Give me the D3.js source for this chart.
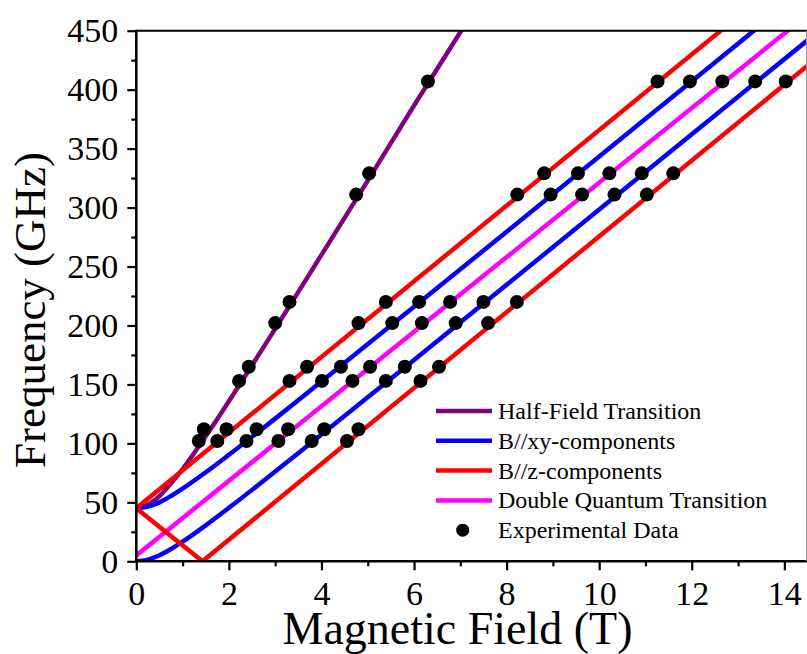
<!DOCTYPE html>
<html>
<head>
<meta charset="utf-8">
<script src="https://cdn.jsdelivr.net/npm/d3@7"></script>
<style>
  html, body { margin: 0; padding: 0; background: #fff; }
  svg { display: block; }
  svg text { font-family: "Liberation Serif", "Times New Roman", Times, "DejaVu Serif", serif; fill: #000; }
</style>
</head>
<body>
<svg id="chart" width="807" height="654"></svg>
<script>
// Resonance branches: [field (T), frequency (GHz)]
const halfField   = [[0,45],[0.25,47.9],[0.5,55.2],[0.75,66.2],[1,78.2],[1.5,106],[2,135.7],[3,197.2],[4,259.9],[5,322.8],[6,386.6],[7.1,455]];
const xyUpper     = [[0,45],[0.25,46.4],[0.5,50],[0.75,55.4],[1,61.6],[1.5,75.5],[2,90.3],[3,121],[4,152.5],[6,215.8],[8,279.5],[10,343.3],[12,407.2],[13.5,455]];
const xyLower     = [[0,0],[0.25,1.4],[0.5,5.1],[0.75,10.4],[1,16.6],[1.5,30.5],[2,45.3],[3,76.1],[4,107.5],[6,170.8],[8,234.5],[10,298.3],[12,362.2],[14.6,445]];
const zUpper      = [[0,45],[13,462]];
const zLower      = [[0,45],[1.43,0],[14.6,423.5]];
const doubleQuant = [[0,5],[14.2,454]];

// Measured resonances, one frequency per row
const expFreq  = [102, 112, 153, 165, 202, 220, 311, 329, 407];
const expField = [
  [1.35, 1.75, 2.38, 3.07, 3.79, 4.55],
  [1.46, 1.95, 2.60, 3.28, 4.06, 4.80],
  [2.22, 3.31, 4.01, 4.67, 5.39, 6.14],
  [2.43, 3.69, 4.42, 5.05, 5.80, 6.54],
  [3.00, 4.80, 5.53, 6.17, 6.90, 7.60],
  [3.31, 5.39, 6.11, 6.78, 7.50, 8.22],
  [4.75, 8.23, 8.95, 9.63, 10.33, 11.03],
  [5.03, 8.81, 9.54, 10.22, 10.92, 11.60],
  [6.30, 11.26, 11.96, 12.66, 13.37, 14.03]
];

const xTicks = [0, 2, 4, 6, 8, 10, 12, 14];
const yTicks = [0, 50, 100, 150, 200, 250, 300, 350, 400, 450];
const legendLabels = ["Half-Field Transition", "B//xy-components", "B//z-components", "Double Quantum Transition", "Experimental Data"];

const COL = { purple: "#800080", blue: "#0000ff", red: "#ff0000", magenta: "#ff00ff" };
const SERIF = "'Liberation Serif', 'Times New Roman', Times, 'DejaVu Serif', serif";

const svg = d3.select("#chart");
const L = 136.3, R = 807.5, T = 30.7, B = 561.3;

const x = d3.scaleLinear().domain([0, 14.5]).range([L, R]);
const y = d3.scaleLinear().domain([0, 450]).range([B, T]);

svg.append("defs").append("clipPath").attr("id", "plotClip")
  .append("rect").attr("x", L).attr("y", T).attr("width", R - L).attr("height", B - T);

const plot = svg.append("g").attr("clip-path", "url(#plotClip)");

const smooth = d3.line().x(d => x(d[0])).y(d => y(d[1])).curve(d3.curveMonotoneX);
const straight = d3.line().x(d => x(d[0])).y(d => y(d[1]));

const curves = [
  { data: halfField,   color: COL.purple,  gen: smooth },
  { data: doubleQuant, color: COL.magenta, gen: straight },
  { data: xyUpper,     color: COL.blue,    gen: smooth },
  { data: xyLower,     color: COL.blue,    gen: smooth },
  { data: zUpper,      color: COL.red,     gen: straight },
  { data: zLower,      color: COL.red,     gen: straight }
];
curves.forEach(c => {
  plot.append("path").attr("d", c.gen(c.data))
    .attr("fill", "none").attr("stroke", c.color)
    .attr("stroke-width", 4.5).attr("stroke-linejoin", "miter");
});

const points = [];
expFreq.forEach((f, i) => expField[i].forEach(b => points.push([b, f])));
plot.selectAll("circle.exp").data(points).enter().append("circle")
  .attr("class", "exp")
  .attr("cx", d => x(d[0])).attr("cy", d => y(d[1])).attr("r", 7)
  .attr("fill", "#000");

// Axes
const axisW = 2.5;
const yAxis = svg.append("g").attr("transform", `translate(${L},0)`)
  .call(d3.axisLeft(y).tickValues(yTicks).tickSize(9).tickPadding(9).tickSizeOuter(0));
const yMinor = svg.append("g").attr("transform", `translate(${L},0)`)
  .call(d3.axisLeft(y).tickValues(d3.range(25, 450, 50)).tickSize(5).tickFormat("").tickSizeOuter(0));
const xAxis = svg.append("g").attr("transform", `translate(0,${B})`)
  .call(d3.axisBottom(x).tickValues(xTicks).tickSize(9).tickPadding(11).tickSizeOuter(0));
const xMinor = svg.append("g").attr("transform", `translate(0,${B})`)
  .call(d3.axisBottom(x).tickValues(d3.range(1, 15, 2)).tickSize(5).tickFormat("").tickSizeOuter(0));

[yAxis, yMinor, xAxis, xMinor].forEach(g => {
  g.attr("font-family", SERIF).attr("font-size", 34);
  g.selectAll("path.domain").remove();
  g.selectAll("line").attr("stroke", "#000").attr("stroke-width", 2.2);
  g.selectAll("text").style("font-family", SERIF).style("font-size", "34px").attr("fill", "#000");
});
yAxis.selectAll("text").attr("dy", "0.33em");

// Frame
svg.append("line").attr("x1", L).attr("x2", L).attr("y1", T - 1).attr("y2", B + 1.2)
  .attr("stroke", "#000").attr("stroke-width", axisW);
svg.append("line").attr("x1", L - 1.2).attr("x2", 807).attr("y1", B).attr("y2", B)
  .attr("stroke", "#000").attr("stroke-width", axisW);
svg.append("line").attr("x1", L).attr("x2", 807).attr("y1", T).attr("y2", T)
  .attr("stroke", "#000").attr("stroke-width", 2);
svg.append("line").attr("x1", 806.5).attr("x2", 806.5).attr("y1", T).attr("y2", B)
  .attr("stroke", "#999").attr("stroke-width", 1);

// Axis titles
svg.append("text").attr("x", 457.5).attr("y", 644).attr("text-anchor", "middle")
  .style("font-family", SERIF).style("font-size", "46px").text("Magnetic Field (T)");
svg.append("text").attr("transform", "translate(45,310) rotate(-90)").attr("text-anchor", "middle")
  .style("font-family", SERIF).style("font-size", "45px").text("Frequency (GHz)");

// Legend
const legendColors = [COL.purple, COL.blue, COL.red, COL.magenta];
const legend = svg.append("g");
legendLabels.forEach((label, i) => {
  const cy = 411 + i * 29.8;
  if (i < 4) {
    legend.append("line").attr("x1", 436).attr("x2", 492).attr("y1", cy).attr("y2", cy)
      .attr("stroke", legendColors[i]).attr("stroke-width", 4.5);
  } else {
    legend.append("circle").attr("cx", 462.7).attr("cy", cy).attr("r", 6.5).attr("fill", "#000");
  }
  legend.append("text").attr("x", 498).attr("y", cy + 8)
    .style("font-family", SERIF).style("font-size", "24px").text(label);
});
</script>
</body>
</html>
